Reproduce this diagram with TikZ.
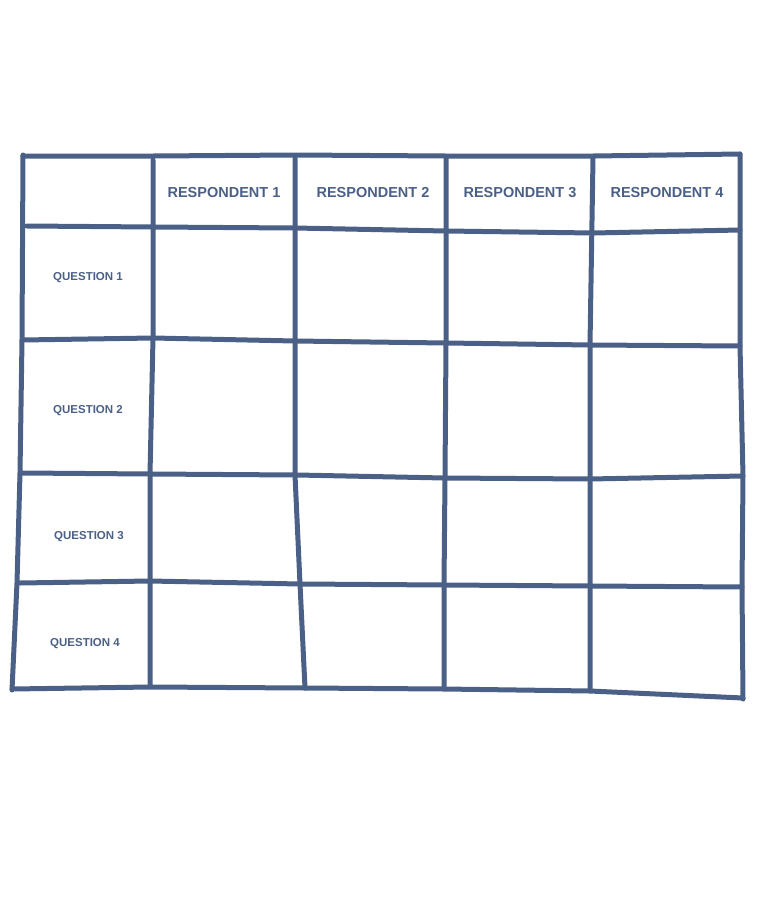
\documentclass[tikz,border=0pt]{standalone}
\usepackage{fontspec}
\setmainfont{Liberation Sans}
\definecolor{ink}{RGB}{74,96,135}
\begin{document}
\begin{tikzpicture}[x=1pt,y=-1pt,
  gridline/.style={draw=ink,line width=5pt,line cap=round,line join=round},
  head/.style={text=ink,font=\fontsize{14.5}{16}\selectfont\bfseries,inner sep=0pt},
  rowlab/.style={text=ink,font=\fontsize{11.5}{13}\selectfont\bfseries,inner sep=0pt}]
\useasboundingbox (0,0) rectangle (760,900);
% horizontal lines
\draw[gridline] (23,156) -- (153,156) -- (295,155) -- (446,156) -- (593,156) -- (740,154);
\draw[gridline] (27,226) -- (153,227) -- (295,228) -- (446,231) -- (593,233) -- (740,230);
\draw[gridline] (22,340) -- (153,338) -- (295,341) -- (446,343) -- (590,345) -- (740,346);
\draw[gridline] (22,473) -- (150,474) -- (297,475) -- (445,478) -- (590,479) -- (742,476);
\draw[gridline] (20,583) -- (150,581) -- (300,584) -- (444,585) -- (590,586) -- (742,587);
\draw[gridline] (12,689) -- (150,687) -- (305,688) -- (444,689) -- (590,691) -- (743,698);
% vertical lines
\draw[gridline] (23,155) -- (22,340) -- (20,473) -- (17,583) -- (12,690);
\draw[gridline] (153,160) -- (153,338) -- (150,474) -- (150,581) -- (150,685);
\draw[gridline] (295,158) -- (295,341) -- (295,475) -- (300,584) -- (305,688);
\draw[gridline] (446,158) -- (446,343) -- (445,478) -- (444,585) -- (444,688);
\draw[gridline] (593,158) -- (590,345) -- (590,479) -- (590,586) -- (590,691);
\draw[gridline] (740,154) -- (740,346) -- (743,476) -- (742,587) -- (743,699);
% header labels
\node[head] (r1) at (224,193) {RESPONDENT 1};
\node[head] (r2) at (373,193) {RESPONDENT 2};
\node[head] (r3) at (520,193) {RESPONDENT 3};
\node[head] (r4) at (667,193) {RESPONDENT 4};
% row labels
\node[rowlab] (q1) at (88,278) {QUESTION 1};
\node[rowlab] (q2) at (88,411) {QUESTION 2};
\node[rowlab] (q3) at (89,537) {QUESTION 3};
\node[rowlab] (q4) at (85,644) {QUESTION 4};
\end{tikzpicture}
\end{document}
